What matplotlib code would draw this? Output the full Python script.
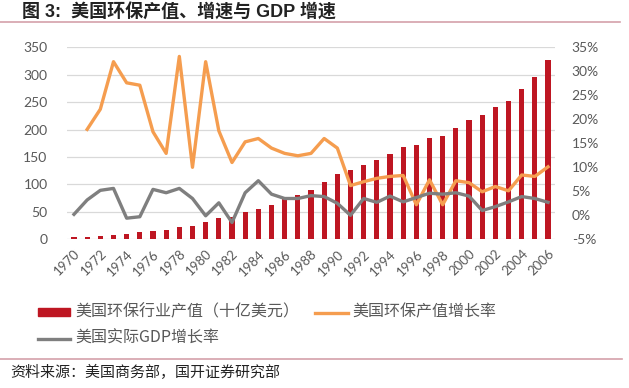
import matplotlib
matplotlib.use("Agg")
import matplotlib.pyplot as plt
from matplotlib.lines import Line2D
from matplotlib.patches import Rectangle

plt.rcParams['font.family'] = ['Lato', 'Noto Sans CJK SC', 'DejaVu Sans']

years = list(range(1970, 2007))
output_bn = [4, 5, 6, 8, 10, 13, 15, 17, 22, 24, 32, 38, 41, 49, 55, 63, 73, 80, 90,
             104, 119, 126, 135, 145, 156, 169, 172, 185, 189, 202, 217, 227, 241, 253,
             274, 296, 326]
env_growth_years = list(range(1971, 2007))
env_growth = [17.9, 22.1, 32.0, 27.6, 27.1, 17.4, 12.9, 33.1, 10.0, 32.0, 17.6, 11.0,
              15.3, 16.0, 14.0, 12.9, 12.4, 12.9, 16.0, 14.0, 6.2, 7.0, 7.7, 8.1, 8.3,
              2.2, 7.4, 2.2, 7.2, 6.8, 4.9, 6.0, 5.1, 8.4, 8.1, 10.1]
gdp_growth = [0.2, 3.2, 5.2, 5.6, -0.6, -0.3, 5.4, 4.7, 5.6, 3.5, -0.1, 2.6, -1.5, 4.7,
              7.2, 4.4, 3.5, 3.5, 4.1, 3.9, 2.5, 0.0, 3.5, 2.7, 4.0, 2.8, 3.7, 4.6, 4.4,
              4.7, 4.0, 1.0, 1.8, 2.8, 3.9, 3.5, 2.7]
left_ticks = [0, 50, 100, 150, 200, 250, 300, 350]
right_ticks = [-5, 0, 5, 10, 15, 20, 25, 30, 35]
xtick_years = list(range(1970, 2007, 2))

title = "图 3:  美国环保产值、增速与 GDP 增速"
legend_labels = ["美国环保行业产值（十亿美元）", "美国环保产值增长率", "美国实际GDP增长率"]
source = "资料来源：美国商务部，国开证券研究部"

BAR = '#BE1622'
ORANGE = '#F59D4F'
GRAY = '#7F7F7F'
TXT = '#595959'
RULE = '#D4A1AA'

W, H = 629, 388
fig = plt.figure(figsize=(W / 100, H / 100), dpi=100)

def fx(x):
    return x / W

def fy(y):
    return 1 - y / H

ax = fig.add_axes([fx(67), fy(239.3), fx(555) - fx(67), fy(47.3) - fy(239.3)])
ax.bar(years, output_bn, width=0.4, color=BAR, zorder=3)
ax.set_xlim(1970 - 0.53, 2006 + 0.53)
ax.set_ylim(0, 350)
ax.set_yticks(left_ticks)
ax.grid(axis='y', color='#D9D9D9', linewidth=0.9, zorder=0)
for s in ax.spines.values():
    s.set_visible(False)
ax.tick_params(axis='both', length=0, colors=TXT, labelsize=10)
ax.tick_params(axis='y', pad=14)
ax.set_xticks(xtick_years)
ax.set_xticklabels([str(y) for y in xtick_years], rotation=45, ha='right',
                   rotation_mode='anchor', fontsize=9.5)
ax.tick_params(axis='x', pad=6)

ax2 = ax.twinx()
ax2.plot(env_growth_years, env_growth, color=ORANGE, linewidth=2.4, zorder=4,
         solid_joinstyle='round')
ax2.plot(years, gdp_growth, color=GRAY, linewidth=2.4, zorder=4, solid_joinstyle='round')
ax2.set_ylim(-5, 35)
ax2.set_yticks(right_ticks)
ax2.set_yticklabels([f"{t}%" for t in right_ticks])
for s in ax2.spines.values():
    s.set_visible(False)
ax2.tick_params(axis='y', length=0, colors=TXT, labelsize=10, pad=12)

# Title and rules
fig.text(fx(22), fy(12.7), title, fontsize=13, fontweight='bold', color='#222222',
         va='center', ha='left', family=['Liberation Sans', 'Noto Sans CJK SC'])
fig.add_artist(Line2D([fx(0), fx(620)], [fy(21.7), fy(21.7)], color=RULE, linewidth=1.2))
fig.add_artist(Line2D([fx(0), fx(622)], [fy(359), fy(359)], color=RULE, linewidth=1.2))

# Legend (manual)
fig.add_artist(Rectangle((fx(38), fy(316)), fx(70) - fx(38), fy(308) - fy(316),
                         color=BAR, transform=fig.transFigure))
fig.text(fx(75), fy(312), legend_labels[0], fontsize=11.5, color=TXT, va='center',
         family=['Noto Sans CJK SC'])
fig.add_artist(Line2D([fx(315), fx(348)], [fy(313), fy(313)], color=ORANGE, linewidth=2.4))
fig.text(fx(352), fy(312), legend_labels[1], fontsize=11.5, color=TXT, va='center',
         family=['Noto Sans CJK SC'])
fig.add_artist(Line2D([fx(38), fx(70)], [fy(338.5), fy(338.5)], color=GRAY, linewidth=2.4))
fig.text(fx(75), fy(338), legend_labels[2], fontsize=11.5, color=TXT, va='center',
         family=['Noto Sans CJK SC'])

fig.text(fx(10), fy(372), source, fontsize=10.8, color='#222222', va='center',
         family=['Noto Sans CJK SC'])

fig.savefig("out.png", dpi=100)
